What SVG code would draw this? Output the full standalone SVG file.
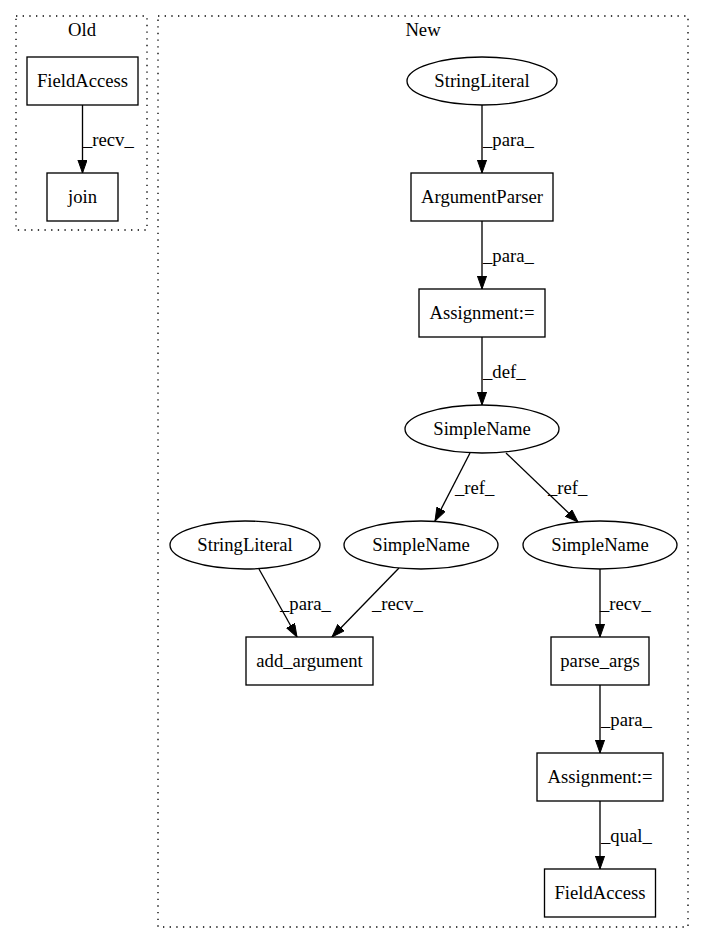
<svg xmlns="http://www.w3.org/2000/svg" width="704" height="944" viewBox="0 0 704 944">
<defs>
<style>
text{font-family:"Liberation Serif","Times New Roman",serif;font-size:18.67px;fill:#000;text-anchor:middle}
text.l{text-anchor:start}
.n{fill:#fff;stroke:#000;stroke-width:1.33}
.c{fill:none;stroke:#000;stroke-width:1.33;stroke-dasharray:1.33,5.33}
.e{fill:none;stroke:#000;stroke-width:1.33}
</style>
<marker id="a" markerWidth="14" markerHeight="10" refX="13.3" refY="4.7" orient="auto" markerUnits="userSpaceOnUse">
<path d="M0,0 L13.3,4.7 L0,9.4 Z" fill="#000" stroke="#000" stroke-width="1"/>
</marker>
</defs>
<rect width="704" height="944" fill="#fff"/>
<g id="cluster_old">
<rect class="c" x="16" y="16" width="131" height="214"/>
<text x="82" y="36">Old</text>
</g>
<g id="cluster_new">
<rect class="c" x="158" y="16" width="530" height="911"/>
<text x="423" y="36">New</text>
</g>
<g id="edges">
<path class="e" d="M82.5,105 L82.5,173" marker-end="url(#a)"/>
<text class="l" x="83" y="146">_recv_</text>
<path class="e" d="M482,105 L482,173" marker-end="url(#a)"/>
<text class="l" x="483" y="146">_para_</text>
<path class="e" d="M482,221 L482,289" marker-end="url(#a)"/>
<text class="l" x="483" y="262">_para_</text>
<path class="e" d="M482,337 L482,405" marker-end="url(#a)"/>
<text class="l" x="483" y="378">_def_</text>
<path class="e" d="M470,453 L435,521" marker-end="url(#a)"/>
<text class="l" x="455" y="494">_ref_</text>
<path class="e" d="M506,453 L578,522" marker-end="url(#a)"/>
<text class="l" x="548" y="494">_ref_</text>
<path class="e" d="M259,569 L297,637" marker-end="url(#a)"/>
<text class="l" x="280" y="610">_para_</text>
<path class="e" d="M399,568 L332,637" marker-end="url(#a)"/>
<text class="l" x="372" y="610">_recv_</text>
<path class="e" d="M600,569 L600,637" marker-end="url(#a)"/>
<text class="l" x="600" y="610">_recv_</text>
<path class="e" d="M600,685 L600,753" marker-end="url(#a)"/>
<text class="l" x="601" y="726">_para_</text>
<path class="e" d="M600,801 L600,869" marker-end="url(#a)"/>
<text class="l" x="601" y="842">_qual_</text>
</g>
<g id="n_old_fieldaccess">
<rect class="n" x="27" y="57" width="111" height="48"/>
<text x="82.5" y="87">FieldAccess</text>
</g>
<g id="n_old_join">
<rect class="n" x="47" y="173" width="71" height="48"/>
<text x="82.5" y="203">join</text>
</g>
<g id="n_stringliteral1">
<ellipse class="n" cx="482" cy="81" rx="75" ry="24"/>
<text x="482" y="87">StringLiteral</text>
</g>
<g id="n_argumentparser">
<rect class="n" x="411" y="173" width="142" height="48"/>
<text x="482" y="203">ArgumentParser</text>
</g>
<g id="n_assignment1">
<rect class="n" x="419" y="289" width="126" height="48"/>
<text x="482" y="319">Assignment:=</text>
</g>
<g id="n_simplename1">
<ellipse class="n" cx="482" cy="429" rx="77" ry="24"/>
<text x="482" y="435">SimpleName</text>
</g>
<g id="n_stringliteral2">
<ellipse class="n" cx="245" cy="545" rx="75" ry="24"/>
<text x="245" y="551">StringLiteral</text>
</g>
<g id="n_simplename2">
<ellipse class="n" cx="421" cy="545" rx="77" ry="24"/>
<text x="421" y="551">SimpleName</text>
</g>
<g id="n_simplename3">
<ellipse class="n" cx="600" cy="545" rx="77" ry="24"/>
<text x="600" y="551">SimpleName</text>
</g>
<g id="n_add_argument">
<rect class="n" x="246" y="637" width="127" height="48"/>
<text x="309.5" y="667">add_argument</text>
</g>
<g id="n_parse_args">
<rect class="n" x="551" y="637" width="98" height="48"/>
<text x="600" y="667">parse_args</text>
</g>
<g id="n_assignment2">
<rect class="n" x="537" y="753" width="126" height="48"/>
<text x="600" y="783">Assignment:=</text>
</g>
<g id="n_fieldaccess2">
<rect class="n" x="544.5" y="869" width="111" height="48"/>
<text x="600" y="899">FieldAccess</text>
</g>
</svg>
